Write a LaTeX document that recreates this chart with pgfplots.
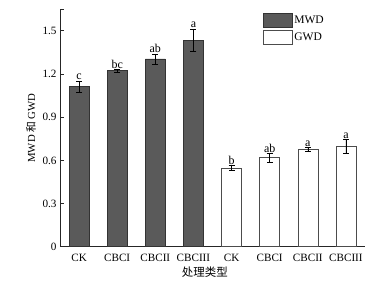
\documentclass[border=0pt]{standalone}
\usepackage{pgfplots}
\pgfplotsset{compat=1.18}
\usepackage{fontspec}
\setmainfont{Liberation Serif}
\newfontfamily\cjk{Noto Sans CJK SC}
\definecolor{mwd}{HTML}{5A5A5A}
\begin{document}
\begin{tikzpicture}
\begin{axis}[
  scale only axis, width=305bp, height=237.4bp,
  xmin=-0.5, xmax=7.5, ymin=0, ymax=1.65,
  axis x line*=bottom, axis y line*=left,
  axis line style={black!85, line width=0.8pt},
  tick align=inside, major tick length=3.5bp,
  tick style={black!85, line width=0.8pt},
  xtick={0,1,2,3,4,5,6,7},
  xticklabels={CK,CBCI,CBCII,CBCIII,CK,CBCI,CBCII,CBCIII},
  x tick style={draw=none},
  ytick={0,0.3,0.6,0.9,1.2,1.5},
  yticklabels={0,0.3,0.6,0.9,1.2,1.5},
  extra y ticks={1.65}, extra y tick labels={},
  ticklabel style={font=\fontsize{11.2}{13}\selectfont},
  /pgf/number format/assume math mode=true,
  xlabel={\cjk 处理类型},
  ylabel={MWD \cjk 和\rmfamily{} GWD},
  xlabel style={font=\fontsize{11.5}{13}\selectfont, at={(axis description cs:0.475,-0.107)}, anchor=center},
  ylabel style={font=\fontsize{10.8}{13}\selectfont, at={(axis description cs:-0.095,0.5)}, anchor=center},
  ybar, bar width=20bp, bar shift=0pt,
  legend style={at={(rel axis cs:0.665,0.985)}, anchor=north west, draw=none, fill=none,
    font=\fontsize{11.6}{13}\selectfont, row sep=2bp, inner sep=0pt,
    cells={anchor=west}},
  legend image code/.code={\draw[#1] (0bp,-7.2bp) rectangle (28.7bp,7.2bp);},
]
\addplot[fill=mwd, draw=black!80, line width=0.6pt,
  error bars/.cd, y dir=both, y explicit,
  error bar style={black, line width=0.6pt},
  error mark options={rotate=90, mark size=3bp, line width=0.6pt}]
  coordinates {(0,1.113) +- (0,0.038) (1,1.224) +- (0,0.010) (2,1.305) +- (0,0.035) (3,1.436) +- (0,0.078)};
\addlegendentry{MWD}
\addplot[fill=white, draw=black!70, line width=0.6pt,
  error bars/.cd, y dir=both, y explicit,
  error bar style={black, line width=0.6pt},
  error mark options={rotate=90, mark size=3bp, line width=0.6pt}]
  coordinates {(4,0.547) +- (0,0.018) (5,0.619) +- (0,0.029) (6,0.674) +- (0,0.014) (7,0.697) +- (0,0.048)};
\addlegendentry{GWD}
\begin{scope}[every node/.style={above, inner sep=0.8pt, font=\fontsize{12}{14}\selectfont}]
\node at (axis cs:0,1.151) {c};
\node at (axis cs:1,1.234) {bc};
\node at (axis cs:2,1.340) {ab};
\node at (axis cs:3,1.514) {a};
\node at (axis cs:4,0.565) {b};
\node at (axis cs:5,0.648) {ab};
\node at (axis cs:6,0.688) {a};
\node at (axis cs:7,0.745) {a};
\end{scope}
\end{axis}
\path (-60bp,-36.3bp) rectangle (331bp,246.7bp);
\end{tikzpicture}
\end{document}
